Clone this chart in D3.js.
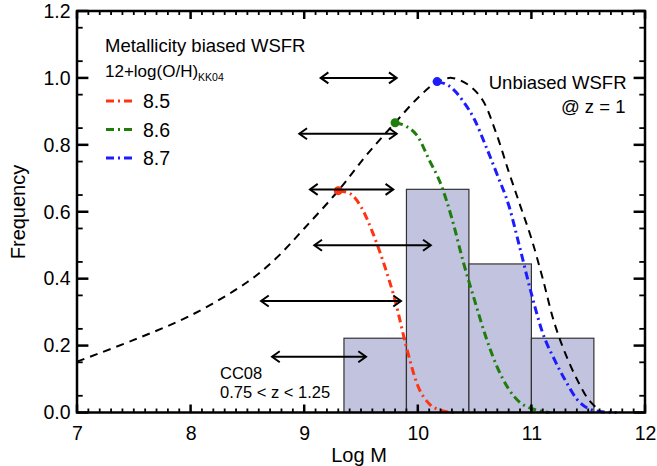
<!DOCTYPE html>
<html>
<head>
<meta charset="utf-8">
<script src="https://cdn.jsdelivr.net/npm/d3@7"></script>
<style>
  body { margin: 0; background: #fff; }
  #wrap { position: relative; width: 657px; height: 466px; }
  #wrap svg { position: absolute; left: 0; top: 0; font-family: "Liberation Sans", Arial, Helvetica, sans-serif; }
</style>
</head>
<body>
<div id="wrap">
<svg id="chart" width="657" height="466"></svg>
<svg id="frame" width="657" height="466"></svg>
</div>
<script>
// histogram (CC08, 0.75 < z < 1.25)
var binEdges = [9.35, 9.9, 10.45, 11.0, 11.55];
var binFreq = [0.222, 0.667, 0.444, 0.222];

// unbiased WSFR @ z = 1
var unbiased = [
  [7.0, 0.152], [7.5, 0.217], [8.0, 0.29], [8.5, 0.39], [8.75, 0.46],
  [9.0, 0.55], [9.3, 0.663], [9.55, 0.77], [9.8, 0.866], [10.0, 0.94],
  [10.17, 0.988], [10.3, 1.0], [10.45, 0.978], [10.57, 0.934], [10.69, 0.835],
  [10.8, 0.72], [10.9, 0.62], [11.0, 0.52], [11.1, 0.4], [11.2, 0.27],
  [11.3, 0.175], [11.4, 0.1], [11.5, 0.04], [11.6, 0.005]
];

// metallicity biased WSFR, 12+log(O/H) = 8.5 / 8.6 / 8.7
var biased85 = [
  [9.3, 0.663], [9.4, 0.655], [9.5, 0.615], [9.6, 0.54], [9.7, 0.446],
  [9.8, 0.335], [9.9, 0.195], [10.0, 0.08], [10.1, 0.026], [10.2, 0.007],
  [10.32, 0.0]
];
var biased86 = [
  [9.8, 0.866], [9.9, 0.855], [10.0, 0.825], [10.1, 0.755], [10.2, 0.685],
  [10.3, 0.58], [10.4, 0.45], [10.5, 0.335], [10.6, 0.225], [10.7, 0.135],
  [10.8, 0.07], [10.9, 0.03], [11.0, 0.012], [11.1, 0.003], [11.16, 0.0]
];
var biased87 = [
  [10.17, 0.989], [10.3, 0.97], [10.4, 0.93], [10.5, 0.875], [10.6, 0.795],
  [10.7, 0.71], [10.8, 0.62], [10.9, 0.49], [11.0, 0.355], [11.1, 0.237],
  [11.2, 0.16], [11.3, 0.095], [11.4, 0.04], [11.5, 0.012], [11.6, 0.003],
  [11.75, 0.0]
];

var metals = ['8.5', '8.6', '8.7'];
var metalColors = ['#ff3412', '#1f7d0c', '#1c1cff'];

// peak markers where the biased curves leave the unbiased one
var peakM = [9.3, 9.8, 10.17];
var peakF = [0.663, 0.866, 0.989];

// mass ranges (double arrows)
var arrowLo = [9.145, 8.957, 9.051, 9.089, 8.62, 8.717];
var arrowHi = [9.814, 9.814, 9.784, 10.114, 9.852, 9.544];
var arrowF = [1.0, 0.8333, 0.6667, 0.5, 0.3333, 0.1667];

var xMajor = [7, 8, 9, 10, 11, 12];
var yMajor = [0, 0.2, 0.4, 0.6, 0.8, 1.0, 1.2];

var svg = d3.select('#chart');
var x = d3.scaleLinear().domain([7, 12]).range([77, 645]);
var y = d3.scaleLinear().domain([0, 1.2]).range([412.5, 11]);

var xMinor = d3.range(71, 120).map(function (v) { return v / 10; }).filter(function (v) { return v % 1 !== 0; });
var yMinor = d3.range(1, 24, 2).map(function (v) { return v / 20; });

// histogram bars
svg.append('g').selectAll('rect')
  .data(binFreq)
  .enter()
  .append('rect')
  .attr('x', function (d, i) { return x(binEdges[i]); })
  .attr('width', function (d, i) { return x(binEdges[i + 1]) - x(binEdges[i]); })
  .attr('y', function (d) { return y(d); })
  .attr('height', function (d) { return y(0) - y(d); })
  .attr('fill', '#c1c3df')
  .attr('stroke', '#333')
  .attr('stroke-width', 1.2);

var curveGen = d3.line()
  .x(function (d) { return x(d[0]); })
  .y(function (d) { return y(d[1]); });

svg.append('path')
  .attr('d', curveGen.curve(d3.curveCatmullRom)(unbiased))
  .attr('fill', 'none')
  .attr('stroke', '#000')
  .attr('stroke-width', 2)
  .attr('stroke-dasharray', '8,6');

curveGen.curve(d3.curveMonotoneX);
[biased85, biased86, biased87].forEach(function (c, i) {
  svg.append('path')
    .attr('d', curveGen(c))
    .attr('fill', 'none')
    .attr('stroke', metalColors[i])
    .attr('stroke-width', 3)
    .attr('stroke-dasharray', '8,4,2,4');
});

svg.append('g').selectAll('circle')
  .data(peakM)
  .enter()
  .append('circle')
  .attr('cx', function (d) { return x(d); })
  .attr('cy', function (d, i) { return y(peakF[i]); })
  .attr('r', 4.5)
  .attr('fill', function (d, i) { return metalColors[i]; });

// double arrows
var arrows = svg.append('g').attr('fill', 'none').attr('stroke', '#000').attr('stroke-width', 2);
arrowF.forEach(function (f, i) {
  var yy = y(f), x0 = x(arrowLo[i]), x1 = x(arrowHi[i]);
  arrows.append('line').attr('x1', x0).attr('x2', x1).attr('y1', yy).attr('y2', yy);
  arrows.append('path').attr('d', 'M' + (x0 + 7.7) + ',' + (yy - 5.5) + 'L' + x0 + ',' + yy + 'L' + (x0 + 7.7) + ',' + (yy + 5.5));
  arrows.append('path').attr('d', 'M' + (x1 - 7.7) + ',' + (yy - 5.5) + 'L' + x1 + ',' + yy + 'L' + (x1 - 7.7) + ',' + (yy + 5.5));
});

// tick labels via d3 axes
var gx = svg.append('g').attr('transform', 'translate(0,' + y(0) + ')')
  .call(d3.axisBottom(x).tickValues(xMajor).tickSize(0).tickPadding(13.7).tickFormat(d3.format('d')));
var gy = svg.append('g').attr('transform', 'translate(' + x(7) + ',0)')
  .call(d3.axisLeft(y).tickValues(yMajor).tickSize(0).tickPadding(6.5).tickFormat(d3.format('.1f')));
[gx, gy].forEach(function (g) {
  g.select('.domain').remove();
  g.selectAll('.tick line').remove();
  g.selectAll('text').attr('fill', '#000').attr('font-size', '19.5px');
  g.attr('font-family', null);
});

// axis titles
svg.append('text')
  .attr('x', 359).attr('y', 461.5)
  .attr('text-anchor', 'middle')
  .attr('font-size', '20px')
  .text('Log M');
svg.append('text')
  .attr('transform', 'translate(25,212) rotate(-90)')
  .attr('text-anchor', 'middle')
  .attr('font-size', '20px')
  .text('Frequency');

// legend
svg.append('text').attr('x', 105).attr('y', 52.3).attr('font-size', '18.5px').text('Metallicity biased WSFR');
var oh = svg.append('text').attr('x', 105).attr('y', 76.5).attr('font-size', '17px');
oh.append('tspan').text('12+log(O/H)');
oh.append('tspan').attr('font-size', '10.5px').attr('dy', 4.5).text('KK04');

metals.forEach(function (m, i) {
  var ly = 101 + i * 28.5;
  svg.append('line')
    .attr('x1', 106).attr('x2', 133).attr('y1', ly).attr('y2', ly)
    .attr('stroke', metalColors[i])
    .attr('stroke-width', 3)
    .attr('stroke-dasharray', '8,4,2,4');
  svg.append('text')
    .attr('x', 143).attr('y', ly + 7)
    .attr('font-size', '19.5px')
    .text(m);
});

svg.append('text').attr('x', 626.5).attr('y', 89.3).attr('text-anchor', 'end').attr('font-size', '18.5px').text('Unbiased WSFR');
svg.append('text').attr('x', 625.5).attr('y', 112.7).attr('text-anchor', 'end').attr('font-size', '18.5px').text('@ z = 1');

svg.append('text').attr('x', 220).attr('y', 379.3).attr('font-size', '16.5px').text('CC08');
svg.append('text').attr('x', 220).attr('y', 398.3).attr('font-size', '16.5px').text('0.75 < z < 1.25');

// frame and inward ticks on their own layer above the chart
var frame = d3.select('#frame').append('g').attr('stroke', '#000').attr('fill', 'none');
frame.append('rect')
  .attr('x', x(7)).attr('y', y(1.2))
  .attr('width', x(12) - x(7)).attr('height', y(0) - y(1.2))
  .attr('stroke-width', 2.5);

function xTicks(vals, len, w) {
  frame.selectAll(null).data(vals).enter().append('line')
    .attr('x1', function (d) { return x(d); }).attr('x2', function (d) { return x(d); })
    .attr('y1', y(0)).attr('y2', y(0) - len).attr('stroke-width', w);
  frame.selectAll(null).data(vals).enter().append('line')
    .attr('x1', function (d) { return x(d); }).attr('x2', function (d) { return x(d); })
    .attr('y1', y(1.2)).attr('y2', y(1.2) + len).attr('stroke-width', w);
}
function yTicks(vals, len, w) {
  frame.selectAll(null).data(vals).enter().append('line')
    .attr('y1', function (d) { return y(d); }).attr('y2', function (d) { return y(d); })
    .attr('x1', x(7)).attr('x2', x(7) + len).attr('stroke-width', w);
  frame.selectAll(null).data(vals).enter().append('line')
    .attr('y1', function (d) { return y(d); }).attr('y2', function (d) { return y(d); })
    .attr('x1', x(12)).attr('x2', x(12) - len).attr('stroke-width', w);
}
xTicks(xMajor, 8, 2.5);
xTicks(xMinor, 4, 1.8);
yTicks(yMajor, 11.4, 2.5);
yTicks(yMinor, 5.7, 1.8);
</script>
</body>
</html>
